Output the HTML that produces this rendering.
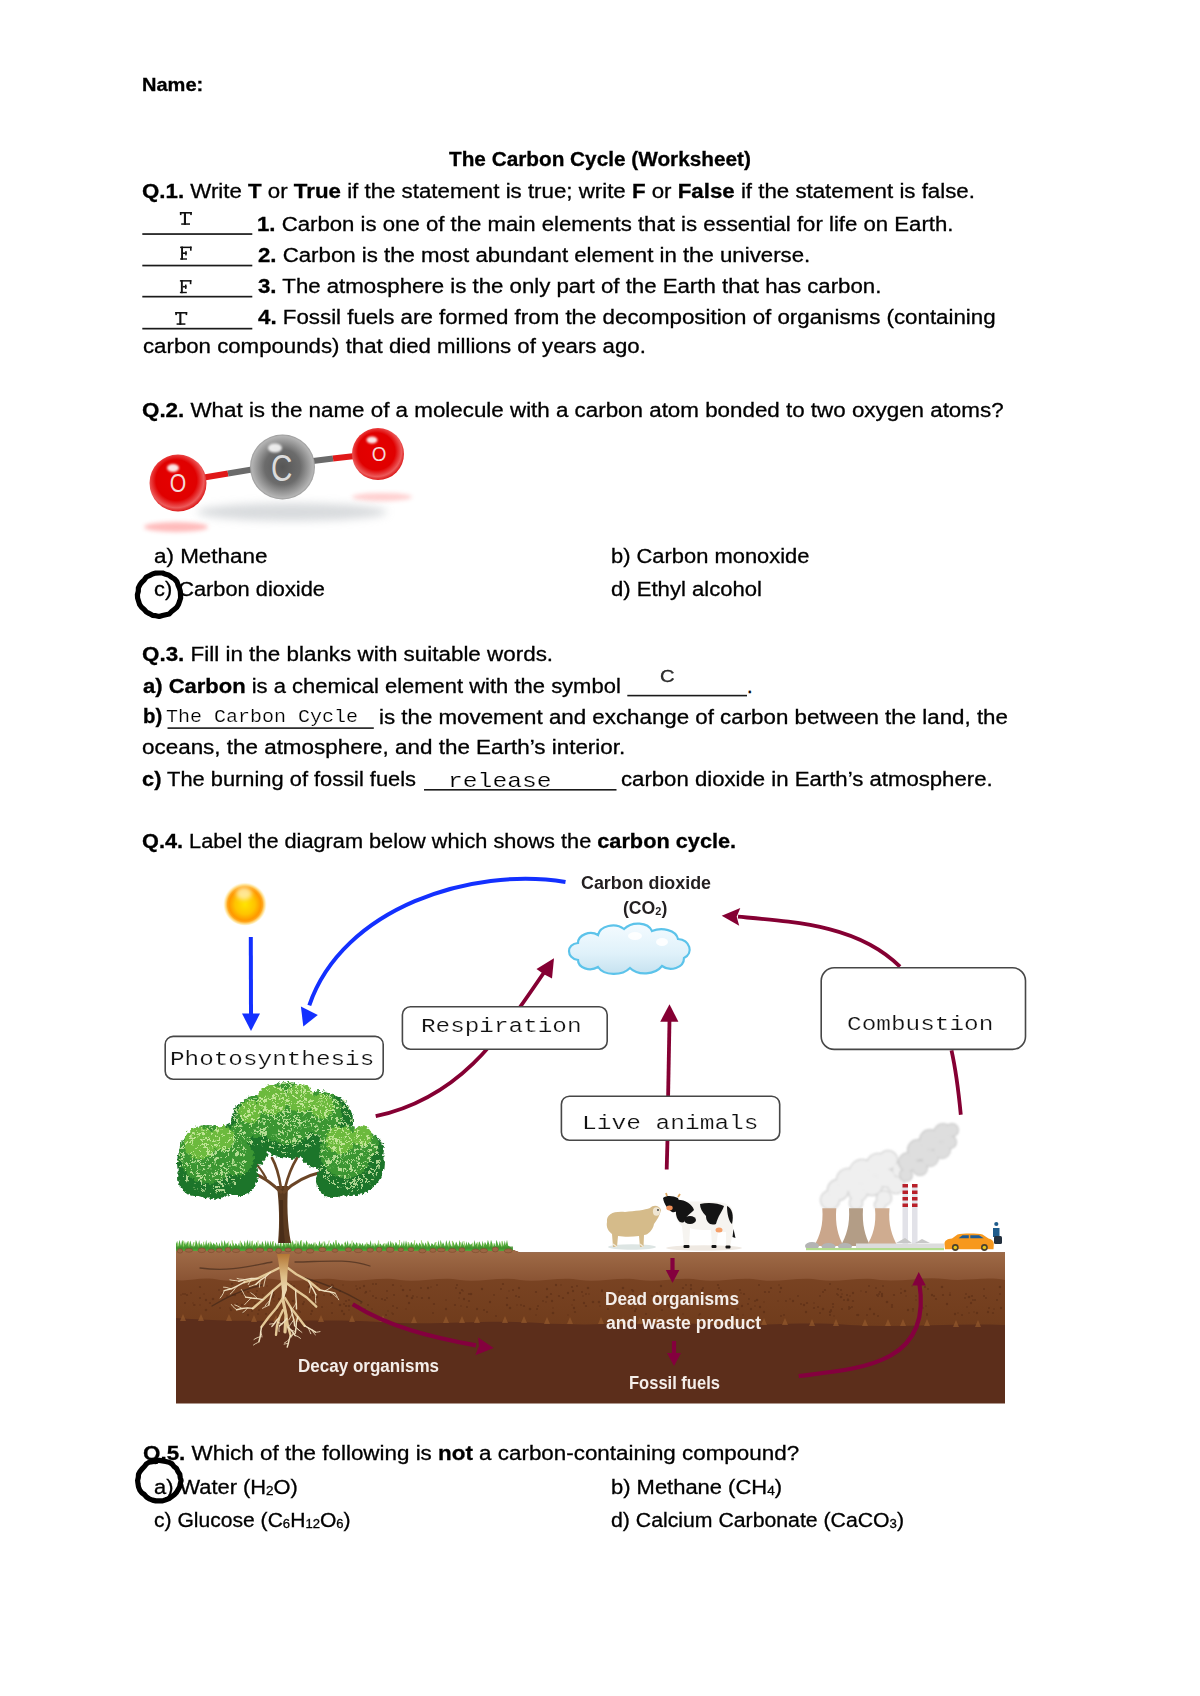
<!DOCTYPE html>
<html><head><meta charset="utf-8"><title>The Carbon Cycle (Worksheet)</title>
<style>
html,body{margin:0;padding:0;background:#fff;}
body{width:1200px;height:1696px;position:relative;overflow:hidden;}
.l{position:absolute;white-space:nowrap;line-height:normal;transform-origin:0 0;}
.l b{font-weight:700;}
.mono{-webkit-text-stroke:0.2px #fff;}
.sans{-webkit-text-stroke:0.3px #000;}
.sb{font-size:0.62em;vertical-align:-0.12em;}
svg{position:absolute;left:0;top:0;}
</style></head>
<body>
<svg width="1200" height="1696" viewBox="0 0 1200 1696">
<defs>
 <radialGradient id="gRed" cx="0.47" cy="0.45" r="0.55">
  <stop offset="0" stop-color="#e60000"/><stop offset="0.65" stop-color="#e00000"/><stop offset="0.88" stop-color="#ec5a5a"/><stop offset="1" stop-color="#dc1a1a"/>
 </radialGradient>
 <radialGradient id="gGrey" cx="0.5" cy="0.5" r="0.55">
  <stop offset="0" stop-color="#565656"/><stop offset="0.5" stop-color="#6c6c6c"/><stop offset="0.86" stop-color="#b4b4b4"/><stop offset="1" stop-color="#6a6a6a"/>
 </radialGradient>
 <radialGradient id="gSun" cx="0.45" cy="0.3" r="0.7">
  <stop offset="0" stop-color="#fff3a8"/><stop offset="0.35" stop-color="#ffd000"/><stop offset="0.8" stop-color="#ff9a00"/><stop offset="1" stop-color="#ff8800"/>
 </radialGradient>
 <filter id="blur2" x="-50%" y="-50%" width="200%" height="200%"><feGaussianBlur stdDeviation="2"/></filter>
 <filter id="blur4" x="-50%" y="-50%" width="200%" height="200%"><feGaussianBlur stdDeviation="4"/></filter>
 <filter id="blur1" x="-50%" y="-50%" width="200%" height="200%"><feGaussianBlur stdDeviation="0.8"/></filter>
 <linearGradient id="gCloud" x1="0" y1="0" x2="0" y2="1">
  <stop offset="0" stop-color="#f4fbff"/><stop offset="0.6" stop-color="#dff1fa"/><stop offset="1" stop-color="#c6e2f0"/>
 </linearGradient>
 <linearGradient id="gTower" x1="0" y1="0" x2="1" y2="0">
  <stop offset="0" stop-color="#c9a68c"/><stop offset="0.5" stop-color="#d9b9a0"/><stop offset="1" stop-color="#b08f78"/>
 </linearGradient>
</defs>

<!-- answer blanks -->
<g fill="#1a1a1a">
 <rect x="142.3" y="233.2" width="110" height="1.7"/>
 <rect x="142.3" y="264.7" width="110" height="1.7"/>
 <rect x="142.3" y="295.8" width="110" height="1.7"/>
 <rect x="142.3" y="327.8" width="110" height="1.7"/>
 <rect x="627.3" y="694.8" width="119.7" height="1.6"/>
 <rect x="167.5" y="727.3" width="206.3" height="1.6"/>
 <rect x="424" y="789.0" width="192.5" height="1.6"/>
</g>
<g fill="#111">
<g transform="translate(179.9,212)"><rect x="0" y="0" width="11.9" height="1.6"/><rect x="0" y="0" width="1.6" height="3.1"/><rect x="10.3" y="0" width="1.6" height="3.1"/><rect x="4.0" y="0" width="2.1" height="12.8"/><rect x="1.3" y="11.3" width="8.8" height="1.5"/></g>
<g transform="translate(180.1,246.6)"><rect x="0" y="0" width="11.5" height="1.5"/><rect x="9.9" y="0" width="1.6" height="4.1"/><rect x="1.0" y="0" width="1.9" height="13.1"/><rect x="2.8" y="5.8" width="3.8" height="1.6"/><rect x="5.1" y="4.5" width="1.5" height="4.3"/><rect x="0" y="11.7" width="6.9" height="1.4"/></g>
<g transform="translate(179.9,280.1)"><rect x="0" y="0" width="11.5" height="1.5"/><rect x="9.9" y="0" width="1.6" height="4.1"/><rect x="1.0" y="0" width="1.9" height="13.1"/><rect x="2.8" y="5.8" width="3.8" height="1.6"/><rect x="5.1" y="4.5" width="1.5" height="4.3"/><rect x="0" y="11.7" width="6.9" height="1.4"/></g>
<g transform="translate(175.3,312)"><rect x="0" y="0" width="11.9" height="1.6"/><rect x="0" y="0" width="1.6" height="3.1"/><rect x="10.3" y="0" width="1.6" height="3.1"/><rect x="4.0" y="0" width="2.1" height="12.8"/><rect x="1.3" y="11.3" width="8.8" height="1.5"/></g>
</g>

<!-- molecule -->
<g>
 <ellipse cx="292" cy="512" rx="95" ry="9" fill="#b9bec2" opacity="0.55" filter="url(#blur4)"/>
 <ellipse cx="176" cy="527" rx="32" ry="5" fill="#ff6a6a" opacity="0.45" filter="url(#blur2)"/>
 <ellipse cx="382" cy="497" rx="30" ry="4" fill="#ff7a7a" opacity="0.35" filter="url(#blur2)"/>
 <line x1="204" y1="477.5" x2="228" y2="473.5" stroke="#e01818" stroke-width="6"/>
 <line x1="228" y1="473.5" x2="252" y2="469.5" stroke="#6a6a6a" stroke-width="6"/>
 <line x1="313" y1="461" x2="333" y2="458.5" stroke="#6a6a6a" stroke-width="6"/>
 <line x1="333" y1="458.5" x2="355" y2="456" stroke="#e01818" stroke-width="6"/>
 <circle cx="178" cy="483" r="28.5" fill="url(#gRed)"/>
 <circle cx="282.5" cy="467" r="32.5" fill="url(#gGrey)"/>
 <circle cx="378" cy="454" r="26" fill="url(#gRed)"/>
 <ellipse cx="173" cy="468" rx="6" ry="4" fill="#fff" opacity="0.9" filter="url(#blur1)"/>
 <ellipse cx="275" cy="448" rx="7" ry="4.5" fill="#fff" opacity="0.85" filter="url(#blur1)"/>
 <ellipse cx="372" cy="440" rx="5.5" ry="3.5" fill="#fff" opacity="0.9" filter="url(#blur1)"/>
 <text x="0" y="0" font-family="Liberation Sans" font-size="25" fill="#f4d8d8" text-anchor="middle" transform="translate(178,491.5) scale(0.85,1)">O</text>
 <text x="0" y="0" font-family="Liberation Sans" font-size="37" fill="#dcdcdc" text-anchor="middle" transform="translate(281.8,480.6) scale(0.8,1)">C</text>
 <text x="0" y="0" font-family="Liberation Sans" font-size="21" fill="#f4d8d8" text-anchor="middle" transform="translate(379,460.8) scale(0.9,1)">O</text>
</g>

<!-- ===== diagram ===== -->
<!-- sun -->
<radialGradient id="gSun2" cx="0.5" cy="0.52" r="0.5">
 <stop offset="0" stop-color="#ffe400"/><stop offset="0.45" stop-color="#ffc400"/><stop offset="0.72" stop-color="#ff9800"/><stop offset="0.8" stop-color="#ffa820"/><stop offset="0.9" stop-color="#ffd870" stop-opacity="0.7"/><stop offset="1" stop-color="#fff0c0" stop-opacity="0"/>
</radialGradient>
<circle cx="245" cy="903.5" r="22" fill="url(#gSun2)"/>
<ellipse cx="244" cy="893.5" rx="8" ry="6.5" fill="#fff2b8" opacity="0.8" filter="url(#blur2)"/>
<!-- blue arrows -->
<g fill="none" stroke="#1330ff" stroke-width="4">
 <path d="M250.8,937 L251,1016"/>
 <path d="M565.5,882.0 C472.0,866.4 342.7,907.7 309.3,1005.3"/>
</g>
<g fill="#1330ff">
 <polygon points="242,1013.5 260,1013.5 251,1031"/>
 <polygon points="300.9,1006.5 317.8,1015 303.3,1026.5"/>
</g>
<!-- cloud -->
<g>
 <path d="M578,960 C566,958 566,944 578,943 C578,935 590,930 598,935 C600,926 615,922 624,929 C632,921 648,922 652,931 C662,927 676,930 678,939 C690,940 694,953 684,958 C684,968 670,972 662,966 C655,975 638,976 630,968 C622,976 604,976 598,967 C590,972 578,968 578,960 Z" fill="url(#gCloud)" stroke="#5cc3ea" stroke-width="2.2"/>
 <ellipse cx="635" cy="936" rx="7" ry="4" fill="#fff" opacity="0.9"/>
 <ellipse cx="662" cy="942" rx="6" ry="4" fill="#fff" opacity="0.9"/>
</g>

<!-- maroon arrows (upper) -->
<g fill="none" stroke="#850033" stroke-width="3.8">
 <path d="M375.7,1116.2 C459.8,1098.0 499.0,1038.4 545.0,971.0"/>
 <path d="M669.5,1020 L668.1,1097"/>
 <path d="M667.5,1139 L666.7,1169.5"/>
 <path d="M900.0,966.7 C858.1,925.2 795.2,921.8 738.0,916.7"/>
 <path d="M951.5,1050.3 Q957,1075 960.8,1114.7"/>
</g>
<g fill="#850033">
 <polygon points="554,958.2 552,978.5 543.5,974 536.5,969"/>
 <polygon points="669.5,1004.3 678.4,1021.7 660.2,1021.7"/>
 <polygon points="721.7,915.8 740.3,908 736.7,916.7 739.2,925.8"/>
</g>
<!-- label boxes -->
<g fill="#fff" stroke="#474747" stroke-width="1.6">
 <rect x="165.2" y="1036.4" width="218" height="42.8" rx="8"/>
 <rect x="402.4" y="1006.8" width="204.8" height="42.4" rx="8"/>
 <rect x="561.4" y="1096.2" width="218.3" height="44" rx="8"/>
 <rect x="821.2" y="967.8" width="204.3" height="81.6" rx="13"/>
</g>

<!-- ===== ground ===== -->
<g>
 <linearGradient id="gTop" x1="0" y1="0" x2="0" y2="1"><stop offset="0" stop-color="#a06c48"/><stop offset="1" stop-color="#8a5434"/></linearGradient>
 <linearGradient id="gMid" x1="0" y1="0" x2="0" y2="1"><stop offset="0" stop-color="#7e4726"/><stop offset="1" stop-color="#703c1c"/></linearGradient>
 <path d="M176,1250 L513,1250 L520,1252.5 L1005,1252.5 L1005,1403.5 L176,1403.5 Z" fill="#5c2e1b"/>
 <path d="M176,1250 L513,1250 L520,1252.5 L1005,1252.5 L1005,1325 C950,1323 900,1328 850,1325 C800,1321 760,1327 700,1324 C640,1321 600,1327 540,1323 C480,1319 440,1326 380,1322 C320,1318 260,1324 176,1318 Z" fill="url(#gMid)"/>
 <path d="M176,1250 L513,1250 L520,1252.5 L1005,1252.5 L1005,1280 C985,1276 965,1282 945,1279 C925,1276 905,1282 880,1280 C860,1276 840,1283 820,1280 C800,1276 780,1283 760,1280 C740,1276 720,1283 700,1280 C680,1276 660,1283 640,1280 C620,1276 600,1283 580,1280 C560,1276 540,1283 520,1280 C500,1276 480,1283 460,1280 C440,1276 420,1283 400,1280 C380,1276 360,1283 340,1280 C320,1276 300,1283 280,1280 C260,1276 240,1283 220,1280 C200,1276 190,1282 176,1280 Z" fill="url(#gTop)"/>
<!-- pebbles row -->
 <g fill="#4e2612" opacity="0.45"><circle cx="314" cy="1306" r="1.1"/><circle cx="573" cy="1291" r="1.2"/><circle cx="844" cy="1300" r="1.0"/><circle cx="373" cy="1284" r="0.9"/><circle cx="661" cy="1286" r="1.2"/><circle cx="370" cy="1291" r="0.7"/><circle cx="1001" cy="1308" r="1.2"/><circle cx="686" cy="1285" r="0.9"/><circle cx="588" cy="1288" r="1.3"/><circle cx="482" cy="1289" r="1.2"/><circle cx="281" cy="1314" r="1.0"/><circle cx="633" cy="1295" r="1.0"/><circle cx="332" cy="1285" r="1.2"/><circle cx="372" cy="1309" r="0.8"/><circle cx="977" cy="1313" r="1.2"/><circle cx="807" cy="1303" r="1.1"/><circle cx="279" cy="1299" r="1.2"/><circle cx="344" cy="1314" r="1.2"/><circle cx="516" cy="1296" r="1.0"/><circle cx="496" cy="1316" r="0.9"/><circle cx="200" cy="1287" r="1.1"/><circle cx="997" cy="1300" r="1.0"/><circle cx="632" cy="1308" r="0.8"/><circle cx="680" cy="1302" r="1.1"/><circle cx="327" cy="1289" r="0.9"/><circle cx="943" cy="1295" r="1.1"/><circle cx="431" cy="1287" r="0.7"/><circle cx="849" cy="1309" r="0.9"/><circle cx="742" cy="1306" r="1.2"/><circle cx="969" cy="1297" r="1.3"/><circle cx="971" cy="1303" r="1.2"/><circle cx="583" cy="1296" r="0.8"/><circle cx="901" cy="1289" r="0.7"/><circle cx="842" cy="1309" r="1.0"/><circle cx="869" cy="1286" r="0.9"/><circle cx="417" cy="1297" r="0.8"/><circle cx="235" cy="1295" r="1.2"/><circle cx="989" cy="1308" r="1.0"/><circle cx="386" cy="1315" r="1.0"/><circle cx="779" cy="1285" r="0.8"/><circle cx="870" cy="1309" r="1.2"/><circle cx="674" cy="1298" r="1.0"/><circle cx="879" cy="1294" r="1.0"/><circle cx="406" cy="1309" r="0.7"/><circle cx="743" cy="1315" r="0.7"/><circle cx="668" cy="1305" r="1.2"/><circle cx="660" cy="1292" r="0.9"/><circle cx="969" cy="1313" r="0.8"/><circle cx="256" cy="1287" r="0.7"/><circle cx="547" cy="1289" r="1.2"/><circle cx="719" cy="1288" r="1.0"/><circle cx="446" cy="1300" r="0.8"/><circle cx="315" cy="1290" r="0.9"/><circle cx="764" cy="1302" r="0.7"/><circle cx="764" cy="1312" r="1.2"/><circle cx="830" cy="1284" r="1.0"/><circle cx="230" cy="1308" r="0.8"/><circle cx="765" cy="1292" r="1.1"/><circle cx="437" cy="1285" r="0.9"/><circle cx="433" cy="1313" r="0.9"/><circle cx="593" cy="1302" r="1.3"/><circle cx="259" cy="1303" r="1.0"/><circle cx="784" cy="1315" r="0.9"/><circle cx="755" cy="1301" r="1.0"/><circle cx="231" cy="1310" r="1.3"/><circle cx="471" cy="1294" r="1.3"/><circle cx="267" cy="1286" r="0.7"/><circle cx="850" cy="1308" r="1.0"/><circle cx="691" cy="1285" r="1.1"/><circle cx="543" cy="1301" r="0.9"/><circle cx="509" cy="1291" r="0.7"/><circle cx="536" cy="1292" r="1.1"/><circle cx="852" cy="1307" r="1.0"/><circle cx="373" cy="1296" r="1.0"/><circle cx="699" cy="1315" r="0.8"/><circle cx="574" cy="1300" r="1.1"/><circle cx="913" cy="1309" r="1.1"/><circle cx="804" cy="1305" r="1.2"/><circle cx="755" cy="1306" r="0.8"/><circle cx="934" cy="1296" r="1.1"/><circle cx="858" cy="1315" r="1.3"/><circle cx="183" cy="1294" r="0.9"/><circle cx="501" cy="1289" r="1.0"/><circle cx="244" cy="1294" r="1.3"/><circle cx="790" cy="1299" r="0.8"/><circle cx="967" cy="1307" r="0.8"/><circle cx="455" cy="1305" r="1.1"/><circle cx="393" cy="1314" r="0.9"/><circle cx="388" cy="1311" r="0.8"/><circle cx="740" cy="1290" r="1.1"/><circle cx="407" cy="1296" r="1.3"/><circle cx="563" cy="1298" r="1.1"/><circle cx="410" cy="1290" r="0.9"/><circle cx="403" cy="1290" r="1.3"/><circle cx="206" cy="1310" r="1.3"/><circle cx="759" cy="1285" r="1.0"/><circle cx="210" cy="1303" r="1.1"/><circle cx="376" cy="1284" r="1.0"/><circle cx="256" cy="1294" r="1.0"/><circle cx="916" cy="1296" r="0.8"/><circle cx="831" cy="1310" r="1.0"/><circle cx="219" cy="1290" r="0.9"/><circle cx="633" cy="1291" r="1.2"/><circle cx="874" cy="1314" r="1.2"/><circle cx="193" cy="1303" r="0.7"/><circle cx="920" cy="1308" r="1.2"/><circle cx="333" cy="1286" r="1.2"/><circle cx="678" cy="1304" r="1.0"/><circle cx="838" cy="1295" r="0.9"/><circle cx="469" cy="1294" r="1.1"/><circle cx="912" cy="1286" r="0.7"/><circle cx="600" cy="1306" r="0.8"/><circle cx="401" cy="1286" r="0.7"/><circle cx="586" cy="1306" r="1.1"/><circle cx="309" cy="1287" r="1.3"/><circle cx="622" cy="1297" r="1.1"/><circle cx="778" cy="1301" r="0.7"/><circle cx="861" cy="1291" r="0.7"/><circle cx="469" cy="1301" r="1.1"/><circle cx="322" cy="1307" r="1.0"/><circle cx="312" cy="1311" r="1.2"/><circle cx="926" cy="1306" r="0.8"/><circle cx="820" cy="1313" r="1.0"/><circle cx="927" cy="1315" r="0.9"/><circle cx="955" cy="1314" r="1.2"/><circle cx="187" cy="1295" r="1.1"/><circle cx="679" cy="1308" r="1.1"/><circle cx="311" cy="1314" r="1.0"/><circle cx="905" cy="1291" r="1.3"/><circle cx="636" cy="1309" r="1.1"/><circle cx="906" cy="1296" r="0.7"/><circle cx="513" cy="1290" r="1.0"/><circle cx="850" cy="1296" r="0.8"/><circle cx="200" cy="1298" r="1.0"/><circle cx="200" cy="1305" r="0.8"/><circle cx="266" cy="1314" r="1.0"/><circle cx="916" cy="1300" r="0.8"/><circle cx="376" cy="1298" r="1.1"/><circle cx="814" cy="1308" r="1.1"/><circle cx="387" cy="1298" r="0.9"/><circle cx="582" cy="1292" r="1.0"/><circle cx="556" cy="1285" r="1.2"/><circle cx="662" cy="1310" r="1.1"/><circle cx="781" cy="1316" r="0.9"/><circle cx="503" cy="1284" r="1.1"/><circle cx="658" cy="1302" r="1.3"/><circle cx="340" cy="1291" r="1.1"/><circle cx="848" cy="1299" r="0.7"/><circle cx="484" cy="1310" r="1.0"/><circle cx="559" cy="1296" r="1.1"/><circle cx="672" cy="1306" r="1.2"/><circle cx="798" cy="1296" r="0.9"/><circle cx="823" cy="1309" r="1.3"/><circle cx="342" cy="1311" r="1.2"/><circle cx="242" cy="1294" r="1.1"/><circle cx="299" cy="1311" r="0.9"/><circle cx="741" cy="1293" r="0.8"/><circle cx="349" cy="1300" r="1.1"/><circle cx="358" cy="1306" r="0.9"/><circle cx="714" cy="1296" r="0.8"/><circle cx="294" cy="1286" r="1.1"/><circle cx="519" cy="1288" r="1.2"/><circle cx="718" cy="1285" r="1.1"/><circle cx="669" cy="1298" r="1.0"/><circle cx="972" cy="1296" r="1.1"/><circle cx="702" cy="1296" r="0.9"/><circle cx="801" cy="1304" r="1.0"/><circle cx="602" cy="1291" r="1.2"/><circle cx="194" cy="1305" r="1.0"/><circle cx="361" cy="1303" r="1.0"/><circle cx="250" cy="1300" r="0.8"/><circle cx="837" cy="1294" r="0.9"/><circle cx="356" cy="1286" r="0.8"/><circle cx="303" cy="1304" r="1.2"/><circle cx="360" cy="1288" r="1.0"/><circle cx="273" cy="1297" r="1.2"/><circle cx="346" cy="1306" r="1.0"/><circle cx="248" cy="1292" r="1.1"/><circle cx="257" cy="1291" r="1.0"/><circle cx="853" cy="1301" r="1.1"/><circle cx="185" cy="1294" r="0.9"/><circle cx="932" cy="1295" r="1.2"/><circle cx="206" cy="1300" r="1.2"/><circle cx="814" cy="1303" r="0.8"/><circle cx="942" cy="1287" r="1.3"/><circle cx="818" cy="1307" r="1.0"/><circle cx="313" cy="1295" r="1.1"/><circle cx="719" cy="1296" r="1.2"/><circle cx="222" cy="1293" r="0.8"/><circle cx="446" cy="1309" r="1.2"/><circle cx="301" cy="1294" r="0.8"/><circle cx="724" cy="1298" r="0.8"/><circle cx="487" cy="1312" r="1.0"/><circle cx="748" cy="1304" r="1.0"/><circle cx="637" cy="1296" r="0.8"/><circle cx="586" cy="1294" r="0.9"/><circle cx="332" cy="1313" r="1.0"/><circle cx="343" cy="1285" r="0.8"/><circle cx="894" cy="1295" r="1.1"/><circle cx="368" cy="1305" r="1.0"/><circle cx="786" cy="1301" r="0.9"/><circle cx="409" cy="1303" r="1.2"/><circle cx="749" cy="1299" r="0.9"/><circle cx="913" cy="1311" r="0.8"/><circle cx="738" cy="1309" r="1.1"/><circle cx="974" cy="1312" r="0.8"/><circle cx="1000" cy="1294" r="0.9"/><circle cx="984" cy="1289" r="0.9"/><circle cx="694" cy="1293" r="0.9"/><circle cx="833" cy="1304" r="1.1"/><circle cx="830" cy="1312" r="1.2"/><circle cx="857" cy="1315" r="1.0"/><circle cx="757" cy="1300" r="1.3"/><circle cx="718" cy="1298" r="1.1"/><circle cx="421" cy="1288" r="0.9"/><circle cx="291" cy="1284" r="0.8"/><circle cx="553" cy="1308" r="0.7"/><circle cx="703" cy="1288" r="1.0"/><circle cx="422" cy="1298" r="1.1"/><circle cx="519" cy="1297" r="1.1"/><circle cx="274" cy="1295" r="1.1"/><circle cx="867" cy="1315" r="0.9"/><circle cx="694" cy="1294" r="1.1"/><circle cx="876" cy="1288" r="0.9"/><circle cx="950" cy="1295" r="1.1"/><circle cx="853" cy="1293" r="1.2"/><circle cx="181" cy="1295" r="0.8"/><circle cx="463" cy="1291" r="0.7"/><circle cx="841" cy="1290" r="1.0"/><circle cx="635" cy="1311" r="1.2"/><circle cx="691" cy="1289" r="1.2"/><circle cx="258" cy="1314" r="0.9"/><circle cx="387" cy="1291" r="0.9"/><circle cx="831" cy="1311" r="1.1"/><circle cx="780" cy="1292" r="0.9"/><circle cx="429" cy="1298" r="1.2"/><circle cx="1000" cy="1287" r="1.3"/><circle cx="936" cy="1299" r="1.1"/><circle cx="825" cy="1290" r="1.1"/><circle cx="988" cy="1312" r="1.2"/><circle cx="248" cy="1307" r="1.0"/><circle cx="928" cy="1289" r="1.0"/><circle cx="277" cy="1310" r="1.1"/><circle cx="204" cy="1294" r="0.8"/><circle cx="702" cy="1304" r="0.7"/><circle cx="962" cy="1315" r="1.0"/><circle cx="652" cy="1296" r="1.1"/><circle cx="507" cy="1298" r="1.1"/><circle cx="332" cy="1294" r="1.2"/><circle cx="364" cy="1286" r="1.2"/><circle cx="310" cy="1297" r="0.9"/><circle cx="394" cy="1295" r="1.0"/><circle cx="274" cy="1301" r="0.7"/><circle cx="243" cy="1290" r="0.8"/><circle cx="460" cy="1293" r="1.2"/><circle cx="721" cy="1299" r="1.2"/><circle cx="744" cy="1294" r="1.1"/><circle cx="793" cy="1301" r="1.2"/><circle cx="700" cy="1314" r="0.9"/><circle cx="732" cy="1315" r="1.0"/><circle cx="925" cy="1287" r="1.1"/><circle cx="397" cy="1308" r="1.0"/><circle cx="619" cy="1292" r="0.9"/><circle cx="892" cy="1305" r="1.1"/><circle cx="273" cy="1293" r="1.3"/><circle cx="346" cy="1301" r="1.1"/><circle cx="599" cy="1302" r="1.3"/><circle cx="823" cy="1292" r="1.0"/><circle cx="524" cy="1306" r="1.1"/><circle cx="393" cy="1306" r="1.0"/><circle cx="191" cy="1293" r="0.9"/><circle cx="340" cy="1305" r="1.3"/><circle cx="947" cy="1304" r="1.2"/><circle cx="584" cy="1303" r="1.2"/><circle cx="227" cy="1296" r="0.9"/><circle cx="459" cy="1298" r="0.7"/><circle cx="738" cy="1315" r="0.8"/><circle cx="331" cy="1295" r="1.2"/><circle cx="365" cy="1309" r="0.8"/><circle cx="669" cy="1307" r="1.1"/><circle cx="248" cy="1315" r="1.2"/><circle cx="575" cy="1312" r="1.1"/><circle cx="317" cy="1297" r="1.2"/><circle cx="561" cy="1285" r="0.8"/><circle cx="332" cy="1303" r="1.1"/><circle cx="547" cy="1297" r="1.3"/><circle cx="461" cy="1306" r="0.8"/><circle cx="602" cy="1290" r="0.8"/><circle cx="456" cy="1288" r="0.9"/><circle cx="717" cy="1302" r="1.2"/><circle cx="572" cy="1287" r="1.1"/><circle cx="510" cy="1308" r="1.3"/><circle cx="610" cy="1292" r="0.9"/><circle cx="589" cy="1294" r="0.8"/><circle cx="507" cy="1305" r="1.2"/><circle cx="806" cy="1312" r="1.2"/><circle cx="517" cy="1305" r="0.7"/><circle cx="833" cy="1307" r="0.9"/><circle cx="568" cy="1293" r="1.2"/><circle cx="530" cy="1309" r="1.3"/><circle cx="820" cy="1296" r="0.9"/><circle cx="958" cy="1313" r="0.8"/><circle cx="477" cy="1309" r="1.2"/><circle cx="412" cy="1298" r="1.3"/><circle cx="252" cy="1293" r="1.1"/><circle cx="927" cy="1314" r="1.0"/><circle cx="830" cy="1315" r="0.9"/><circle cx="366" cy="1292" r="1.2"/><circle cx="293" cy="1301" r="1.3"/><circle cx="344" cy="1304" r="1.0"/><circle cx="975" cy="1300" r="1.0"/><circle cx="923" cy="1308" r="0.8"/><circle cx="841" cy="1297" r="1.3"/><circle cx="973" cy="1300" r="0.9"/><circle cx="365" cy="1293" r="0.8"/><circle cx="317" cy="1307" r="0.7"/><circle cx="672" cy="1303" r="1.1"/><circle cx="646" cy="1314" r="0.9"/><circle cx="255" cy="1303" r="0.9"/><circle cx="993" cy="1313" r="1.1"/><circle cx="866" cy="1292" r="1.0"/><circle cx="494" cy="1295" r="0.9"/><circle cx="572" cy="1305" r="0.7"/><circle cx="623" cy="1288" r="1.3"/><circle cx="633" cy="1303" r="0.9"/><circle cx="760" cy="1307" r="1.2"/><circle cx="657" cy="1293" r="1.1"/><circle cx="220" cy="1308" r="0.9"/><circle cx="771" cy="1288" r="1.1"/><circle cx="317" cy="1285" r="0.9"/><circle cx="878" cy="1296" r="1.0"/><circle cx="830" cy="1315" r="0.9"/><circle cx="751" cy="1309" r="1.2"/><circle cx="464" cy="1299" r="1.2"/><circle cx="385" cy="1300" r="1.1"/><circle cx="880" cy="1292" r="1.1"/><circle cx="357" cy="1289" r="1.0"/><circle cx="712" cy="1304" r="1.3"/><circle cx="314" cy="1301" r="1.0"/><circle cx="392" cy="1313" r="0.8"/><circle cx="393" cy="1285" r="1.1"/><circle cx="721" cy="1291" r="1.3"/><circle cx="702" cy="1290" r="1.3"/><circle cx="882" cy="1294" r="1.2"/><circle cx="285" cy="1295" r="1.0"/><circle cx="966" cy="1294" r="0.9"/><circle cx="349" cy="1310" r="0.8"/><circle cx="877" cy="1295" r="1.0"/><circle cx="901" cy="1293" r="1.0"/><circle cx="703" cy="1302" r="0.9"/><circle cx="711" cy="1294" r="0.8"/><circle cx="185" cy="1303" r="1.0"/><circle cx="838" cy="1289" r="1.1"/><circle cx="552" cy="1301" r="1.2"/><circle cx="606" cy="1298" r="1.1"/><circle cx="300" cy="1312" r="1.0"/><circle cx="213" cy="1299" r="1.3"/><circle cx="986" cy="1298" r="0.9"/><circle cx="950" cy="1293" r="0.7"/><circle cx="382" cy="1299" r="1.1"/><circle cx="233" cy="1295" r="1.1"/><circle cx="462" cy="1290" r="1.1"/><circle cx="538" cy="1306" r="1.0"/><circle cx="848" cy="1300" r="1.3"/><circle cx="849" cy="1307" r="1.0"/><circle cx="681" cy="1296" r="0.7"/><circle cx="908" cy="1310" r="1.2"/><circle cx="887" cy="1302" r="1.3"/><circle cx="568" cy="1315" r="0.7"/><circle cx="490" cy="1302" r="1.2"/><circle cx="608" cy="1309" r="0.9"/><circle cx="737" cy="1309" r="1.1"/><circle cx="195" cy="1305" r="0.7"/><circle cx="428" cy="1288" r="1.2"/><circle cx="317" cy="1307" r="0.7"/><circle cx="349" cy="1306" r="1.3"/><circle cx="237" cy="1304" r="0.9"/><circle cx="691" cy="1286" r="0.7"/><circle cx="243" cy="1313" r="1.0"/><circle cx="683" cy="1288" r="1.1"/><circle cx="921" cy="1290" r="1.2"/><circle cx="878" cy="1316" r="1.0"/><circle cx="710" cy="1295" r="1.2"/><circle cx="434" cy="1304" r="1.1"/><circle cx="994" cy="1309" r="0.8"/><circle cx="324" cy="1295" r="0.9"/><circle cx="769" cy="1292" r="1.0"/><circle cx="551" cy="1294" r="1.1"/><circle cx="536" cy="1315" r="0.8"/><circle cx="920" cy="1304" r="1.0"/><circle cx="242" cy="1305" r="1.2"/><circle cx="467" cy="1307" r="1.0"/><circle cx="252" cy="1311" r="0.9"/><circle cx="574" cy="1308" r="1.2"/><circle cx="882" cy="1296" r="1.2"/><circle cx="304" cy="1302" r="1.0"/><circle cx="892" cy="1307" r="1.1"/><circle cx="847" cy="1295" r="1.0"/><circle cx="263" cy="1295" r="0.8"/><circle cx="781" cy="1288" r="1.2"/><circle cx="673" cy="1298" r="0.8"/><circle cx="546" cy="1302" r="0.8"/><circle cx="984" cy="1296" r="1.0"/><circle cx="413" cy="1296" r="0.9"/><circle cx="883" cy="1286" r="0.9"/><circle cx="671" cy="1299" r="0.9"/><circle cx="577" cy="1286" r="0.9"/><circle cx="537" cy="1309" r="1.0"/><circle cx="521" cy="1305" r="0.9"/><circle cx="632" cy="1290" r="1.1"/><circle cx="623" cy="1305" r="1.2"/><circle cx="834" cy="1316" r="0.8"/><circle cx="965" cy="1298" r="0.9"/><circle cx="553" cy="1313" r="1.3"/><circle cx="842" cy="1294" r="0.8"/><circle cx="346" cy="1306" r="1.1"/><circle cx="232" cy="1284" r="1.3"/><circle cx="457" cy="1285" r="1.0"/><circle cx="259" cy="1310" r="1.0"/><circle cx="683" cy="1314" r="0.8"/></g>
 <g fill="#94592c" opacity="0.7"><path d="M180,1321 L183,1314 L186,1321 Z"/><path d="M198,1321 L201,1314 L204,1321 Z"/><path d="M226,1321 L229,1314 L232,1321 Z"/><path d="M251,1322 L254,1315 L257,1322 Z"/><path d="M273,1322 L276,1315 L279,1322 Z"/><path d="M293,1322 L296,1315 L299,1322 Z"/><path d="M318,1322 L321,1315 L324,1322 Z"/><path d="M349,1322 L352,1315 L355,1322 Z"/><path d="M380,1322 L383,1315 L386,1322 Z"/><path d="M411,1323 L414,1316 L417,1323 Z"/><path d="M443,1323 L446,1316 L449,1323 Z"/><path d="M459,1323 L462,1316 L465,1323 Z"/><path d="M474,1323 L477,1316 L480,1323 Z"/><path d="M502,1323 L505,1316 L508,1323 Z"/><path d="M521,1323 L524,1316 L527,1323 Z"/><path d="M544,1324 L547,1317 L550,1324 Z"/><path d="M567,1324 L570,1317 L573,1324 Z"/><path d="M598,1324 L601,1317 L604,1324 Z"/><path d="M620,1324 L623,1317 L626,1324 Z"/><path d="M637,1324 L640,1317 L643,1324 Z"/><path d="M654,1324 L657,1317 L660,1324 Z"/><path d="M685,1325 L688,1318 L691,1325 Z"/><path d="M713,1325 L716,1318 L719,1325 Z"/><path d="M730,1325 L733,1318 L736,1325 Z"/><path d="M761,1325 L764,1318 L767,1325 Z"/><path d="M782,1325 L785,1318 L788,1325 Z"/><path d="M809,1326 L812,1319 L815,1326 Z"/><path d="M833,1326 L836,1319 L839,1326 Z"/><path d="M862,1326 L865,1319 L868,1326 Z"/><path d="M885,1326 L888,1319 L891,1326 Z"/><path d="M900,1326 L903,1319 L906,1326 Z"/><path d="M924,1326 L927,1319 L930,1326 Z"/><path d="M953,1327 L956,1320 L959,1327 Z"/><path d="M975,1327 L978,1320 L981,1327 Z"/></g>
 <!-- grass -->
 <path d="M176,1251 L176,1244 L177.2,1240.8 L178.2,1246.3 L179.4,1239.8 L181.0,1245.7 L182.2,1239.7 L183.8,1245.1 L185.0,1241.2 L185.9,1245.2 L187.1,1241.2 L189.1,1245.2 L190.3,1240.4 L192.1,1246.9 L193.3,1241.8 L194.7,1247.0 L195.9,1239.7 L198.0,1245.6 L199.2,1240.1 L200.1,1245.6 L201.3,1242.8 L202.4,1246.2 L203.6,1242.1 L205.0,1246.1 L206.2,1239.8 L207.1,1245.4 L208.3,1242.2 L209.7,1245.6 L210.9,1241.8 L212.4,1245.6 L213.6,1242.7 L215.4,1245.5 L216.6,1241.8 L218.2,1246.8 L219.4,1242.4 L220.6,1247.0 L221.8,1240.0 L223.3,1246.5 L224.5,1240.1 L226.0,1245.1 L227.2,1242.2 L229.2,1246.1 L230.4,1243.0 L231.6,1246.4 L232.8,1241.9 L234.5,1245.9 L235.7,1242.9 L237.9,1245.9 L239.1,1242.2 L240.0,1246.4 L241.2,1242.1 L243.5,1246.6 L244.7,1240.6 L246.1,1246.3 L247.3,1239.6 L248.8,1245.3 L250.0,1240.0 L250.9,1246.5 L252.1,1240.0 L253.2,1245.8 L254.4,1243.0 L255.3,1245.9 L256.5,1241.7 L258.7,1246.6 L259.9,1243.0 L261.1,1245.8 L262.3,1240.9 L264.4,1246.9 L265.6,1240.1 L266.7,1245.5 L267.9,1240.4 L269.4,1246.2 L270.6,1240.6 L271.4,1245.8 L272.6,1241.0 L274.3,1246.9 L275.5,1242.3 L277.0,1246.2 L278.2,1242.2 L279.1,1246.8 L280.3,1242.6 L282.4,1246.6 L283.6,1241.1 L285.0,1245.2 L286.2,1242.0 L287.1,1245.1 L288.3,1240.3 L289.4,1245.7 L290.6,1239.7 L291.4,1245.3 L292.6,1239.9 L293.9,1245.1 L295.1,1243.0 L296.8,1245.3 L298.0,1240.5 L299.3,1245.7 L300.5,1240.0 L302.6,1247.0 L303.8,1241.4 L305.3,1245.2 L306.5,1239.9 L307.9,1245.5 L309.1,1242.8 L310.1,1245.0 L311.3,1243.3 L312.9,1245.3 L314.1,1241.7 L314.9,1246.1 L316.1,1243.4 L318.2,1246.4 L319.4,1240.5 L320.8,1245.3 L322.0,1242.6 L323.6,1246.6 L324.8,1240.8 L325.9,1246.6 L327.1,1243.4 L329.2,1246.6 L330.4,1242.8 L332.3,1245.5 L333.5,1241.6 L334.8,1245.1 L336.0,1239.6 L337.3,1245.5 L338.5,1242.3 L340.7,1245.9 L341.9,1243.2 L344.2,1246.9 L345.4,1241.0 L346.5,1245.5 L347.7,1240.3 L348.8,1246.2 L350.0,1243.1 L352.1,1246.0 L353.3,1242.1 L355.3,1245.2 L356.5,1242.1 L358.6,1246.6 L359.8,1242.5 L361.4,1245.4 L362.6,1242.7 L363.9,1246.6 L365.1,1243.4 L366.4,1245.8 L367.6,1243.3 L369.5,1245.3 L370.7,1240.0 L371.8,1246.8 L373.0,1242.7 L374.0,1246.7 L375.2,1243.4 L377.0,1245.7 L378.2,1241.7 L379.2,1245.0 L380.4,1243.4 L382.1,1246.1 L383.3,1243.2 L384.8,1246.7 L386.0,1242.8 L387.1,1245.5 L388.3,1240.7 L389.5,1246.2 L390.7,1240.5 L392.1,1245.3 L393.3,1243.1 L394.6,1245.9 L395.8,1241.8 L398.0,1245.8 L399.2,1243.2 L400.7,1246.1 L401.9,1241.6 L402.8,1245.9 L404.0,1240.2 L404.8,1246.6 L406.0,1240.2 L407.5,1246.5 L408.7,1241.7 L410.0,1246.0 L411.2,1241.7 L413.1,1245.2 L414.3,1241.7 L415.5,1245.6 L416.7,1242.6 L418.3,1246.1 L419.5,1242.5 L421.6,1245.9 L422.8,1242.0 L424.4,1246.0 L425.6,1242.3 L427.1,1246.1 L428.3,1241.4 L430.5,1246.4 L431.7,1243.0 L433.9,1245.5 L435.1,1241.7 L437.3,1246.7 L438.5,1240.0 L439.5,1245.9 L440.7,1239.8 L441.9,1245.1 L443.1,1242.2 L445.0,1246.8 L446.2,1240.1 L448.1,1246.3 L449.3,1240.1 L451.4,1246.9 L452.6,1240.4 L454.9,1245.8 L456.1,1241.4 L458.4,1246.7 L459.6,1240.1 L461.0,1246.0 L462.2,1240.9 L463.3,1245.6 L464.5,1242.4 L465.3,1246.1 L466.5,1241.3 L467.3,1245.7 L468.5,1242.0 L470.1,1245.1 L471.3,1243.4 L473.3,1246.9 L474.5,1239.9 L475.7,1245.1 L476.9,1242.6 L478.1,1245.3 L479.3,1241.2 L481.5,1246.6 L482.7,1240.5 L483.7,1246.8 L484.9,1241.8 L486.7,1245.2 L487.9,1239.7 L489.8,1245.9 L491.0,1239.8 L493.2,1246.3 L494.4,1242.7 L495.3,1246.7 L496.5,1239.8 L498.6,1245.9 L499.8,1240.9 L501.4,1246.9 L502.6,1240.6 L503.6,1246.1 L504.8,1240.5 L505.8,1245.3 L507.0,1239.7 L508.1,1245.6 L513,1249 L513,1251 Z" fill="#4fa83a"/>
 <g stroke="#9ad26a" stroke-width="1" fill="none" opacity="0.9"><path d="M178.0,1248 L177.8,1243.0" /><path d="M183.4,1248 L183.7,1240.7" /><path d="M189.2,1248 L188.2,1241.0" /><path d="M193.3,1248 L194.1,1242.2" /><path d="M198.2,1248 L198.4,1243.7" /><path d="M202.7,1248 L203.8,1241.7" /><path d="M209.2,1248 L210.3,1241.6" /><path d="M215.7,1248 L216.5,1243.9" /><path d="M221.5,1248 L222.5,1242.8" /><path d="M228.6,1248 L228.7,1241.4" /><path d="M232.9,1248 L232.2,1240.3" /><path d="M240.6,1248 L240.3,1240.7" /><path d="M245.0,1248 L246.1,1243.5" /><path d="M252.4,1248 L252.1,1241.0" /><path d="M257.9,1248 L258.0,1240.6" /><path d="M264.1,1248 L263.7,1243.8" /><path d="M273.0,1248 L273.3,1241.0" /><path d="M281.8,1248 L281.6,1241.4" /><path d="M285.8,1248 L285.7,1241.9" /><path d="M292.3,1248 L291.8,1242.0" /><path d="M296.3,1248 L296.0,1240.4" /><path d="M302.3,1248 L301.4,1240.1" /><path d="M307.8,1248 L307.4,1242.3" /><path d="M314.5,1248 L315.4,1242.6" /><path d="M322.1,1248 L323.3,1241.6" /><path d="M327.7,1248 L329.2,1240.6" /><path d="M335.3,1248 L335.9,1240.2" /><path d="M343.5,1248 L344.7,1242.5" /><path d="M351.2,1248 L352.2,1240.6" /><path d="M357.8,1248 L358.0,1243.3" /><path d="M365.8,1248 L366.9,1242.3" /><path d="M374.3,1248 L375.0,1242.8" /><path d="M379.4,1248 L378.5,1240.5" /><path d="M385.2,1248 L384.5,1243.3" /><path d="M392.0,1248 L392.6,1242.5" /><path d="M399.4,1248 L399.6,1240.0" /><path d="M407.4,1248 L408.3,1242.0" /><path d="M414.1,1248 L414.7,1240.3" /><path d="M421.8,1248 L421.4,1240.3" /><path d="M427.1,1248 L427.9,1240.8" /><path d="M434.8,1248 L436.2,1242.0" /><path d="M440.7,1248 L440.9,1242.7" /><path d="M448.5,1248 L449.1,1242.6" /><path d="M452.9,1248 L452.3,1241.0" /><path d="M460.6,1248 L460.4,1242.3" /><path d="M464.7,1248 L463.9,1241.1" /><path d="M472.1,1248 L472.8,1242.7" /><path d="M477.5,1248 L477.8,1241.9" /><path d="M483.9,1248 L483.2,1243.6" /><path d="M488.9,1248 L490.3,1243.7" /><path d="M492.9,1248 L493.1,1243.3" /><path d="M501.8,1248 L501.9,1241.1" /></g>
 <rect x="176" y="1246.5" width="337" height="3" fill="#3d8c2a" opacity="0.8"/>
 <g fill="#9c6644" stroke="#7a4a2c" stroke-width="0.6"><ellipse cx="180.0" cy="1250.9" rx="2.8" ry="2.2"/><ellipse cx="188.9" cy="1250.3" rx="3.9" ry="1.9"/><ellipse cx="201.8" cy="1250.3" rx="3.8" ry="2.3"/><ellipse cx="211.2" cy="1250.8" rx="3.2" ry="1.8"/><ellipse cx="219.2" cy="1250.2" rx="3.2" ry="2.0"/><ellipse cx="228.0" cy="1250.0" rx="3.0" ry="2.4"/><ellipse cx="236.0" cy="1250.6" rx="3.8" ry="1.9"/><ellipse cx="249.6" cy="1250.6" rx="3.9" ry="2.0"/><ellipse cx="259.8" cy="1250.1" rx="4.0" ry="2.2"/><ellipse cx="270.0" cy="1250.1" rx="2.9" ry="1.8"/><ellipse cx="278.6" cy="1250.8" rx="2.9" ry="2.5"/><ellipse cx="288.1" cy="1249.9" rx="3.3" ry="1.9"/><ellipse cx="298.3" cy="1250.9" rx="3.8" ry="2.4"/><ellipse cx="310.1" cy="1250.9" rx="3.9" ry="2.2"/><ellipse cx="322.4" cy="1249.6" rx="3.6" ry="2.1"/><ellipse cx="335.0" cy="1250.5" rx="2.9" ry="1.8"/><ellipse cx="348.5" cy="1249.7" rx="3.2" ry="2.0"/><ellipse cx="358.3" cy="1250.6" rx="4.0" ry="2.0"/><ellipse cx="370.2" cy="1250.0" rx="3.3" ry="2.1"/><ellipse cx="379.2" cy="1249.7" rx="2.8" ry="2.4"/><ellipse cx="390.2" cy="1249.8" rx="3.9" ry="2.5"/><ellipse cx="400.9" cy="1249.7" rx="2.8" ry="1.9"/><ellipse cx="411.0" cy="1249.6" rx="2.9" ry="2.0"/><ellipse cx="422.4" cy="1250.8" rx="3.6" ry="2.1"/><ellipse cx="432.9" cy="1250.3" rx="3.1" ry="2.0"/><ellipse cx="441.3" cy="1249.9" rx="4.0" ry="1.9"/><ellipse cx="452.3" cy="1250.4" rx="3.8" ry="2.0"/><ellipse cx="461.9" cy="1249.9" rx="3.1" ry="2.1"/><ellipse cx="475.6" cy="1250.8" rx="3.8" ry="1.8"/><ellipse cx="483.8" cy="1250.6" rx="3.8" ry="2.1"/><ellipse cx="495.3" cy="1249.5" rx="3.1" ry="2.4"/><ellipse cx="508.3" cy="1250.8" rx="4.0" ry="2.0"/></g>
<!-- factory ground strip -->
 
</g>

<!-- roots -->
<linearGradient id="gRoot" x1="0" y1="0" x2="0" y2="1"><stop offset="0" stop-color="#b37634"/><stop offset="0.5" stop-color="#dfc08a"/><stop offset="1" stop-color="#f3e6c8"/></linearGradient>
<g fill="none" stroke-linecap="round" stroke-linejoin="round">
 <g stroke="#3a2418" stroke-width="1.3" opacity="0.6">
  <path d="M272,1262 C250,1266 230,1272 200,1268"/>
  <path d="M295,1262 C320,1262 345,1258 370,1266"/>
  <path d="M305,1278 C330,1285 345,1292 362,1302"/>
  <path d="M262,1285 C240,1290 225,1298 212,1306"/>
 </g>
 <path d="M283.0,1256.0 L282.0,1270.0 L284.0,1285.0 L283.0,1300.0 L286.0,1315.0 L285.0,1332.0" stroke="#e3c896" stroke-width="3.20"/>
 <path d="M283.0,1266.0 L270.5,1272.3 L257.9,1278.4 L244.4,1282.2" stroke="#e3c896" stroke-width="2.40"/>
 <path d="M270.5,1272.3 L265.7,1276.5 L260.5,1280.1 L255.9,1284.4" stroke="#efe0bf" stroke-width="1.44"/>
 <path d="M265.7,1276.5 L265.1,1279.8 L264.3,1283.0 L263.7,1286.3" stroke="#efe0bf" stroke-width="0.86"/>
 <path d="M260.5,1280.1 L259.8,1282.4 L259.6,1284.9 L259.4,1287.3" stroke="#efe0bf" stroke-width="0.86"/>
 <path d="M255.9,1284.4 L253.7,1285.1 L251.5,1285.9 L249.3,1286.6" stroke="#efe0bf" stroke-width="0.86"/>
 <path d="M257.9,1278.4 L251.4,1278.5 L245.0,1279.6 L238.8,1281.2" stroke="#efe0bf" stroke-width="1.44"/>
 <path d="M251.4,1278.5 L250.6,1280.6 L249.4,1282.5 L248.3,1284.5" stroke="#efe0bf" stroke-width="0.86"/>
 <path d="M245.0,1279.6 L242.4,1279.3 L239.7,1279.1 L237.1,1278.4" stroke="#efe0bf" stroke-width="0.86"/>
 <path d="M238.8,1281.2 L235.8,1280.6 L232.9,1280.4 L229.9,1279.8" stroke="#efe0bf" stroke-width="0.86"/>
 <path d="M244.4,1282.2 L237.9,1285.6 L231.3,1288.8 L224.2,1290.6" stroke="#efe0bf" stroke-width="1.44"/>
 <path d="M237.9,1285.6 L235.2,1288.3 L233.0,1291.4 L230.2,1294.0" stroke="#efe0bf" stroke-width="0.86"/>
 <path d="M231.3,1288.8 L228.7,1288.2 L226.2,1287.4 L223.5,1287.2" stroke="#efe0bf" stroke-width="0.86"/>
 <path d="M224.2,1290.6 L223.3,1293.2 L221.9,1295.7 L220.2,1298.0" stroke="#efe0bf" stroke-width="0.86"/>
 <path d="M285.0,1266.0 L296.3,1274.2 L308.6,1281.0 L319.4,1289.8" stroke="#e3c896" stroke-width="2.40"/>
 <path d="M308.6,1281.0 L310.9,1285.6 L313.6,1290.1 L315.9,1294.7" stroke="#efe0bf" stroke-width="1.44"/>
 <path d="M310.9,1285.6 L310.2,1288.0 L309.9,1290.4 L309.4,1292.8" stroke="#efe0bf" stroke-width="0.86"/>
 <path d="M315.9,1294.7 L315.5,1297.5 L315.6,1300.3 L315.8,1303.0" stroke="#efe0bf" stroke-width="0.86"/>
 <path d="M319.4,1289.8 L324.6,1291.0 L329.8,1291.8 L335.0,1293.1" stroke="#efe0bf" stroke-width="1.44"/>
 <path d="M324.6,1291.0 L327.1,1289.7 L329.6,1288.3 L331.9,1286.7" stroke="#efe0bf" stroke-width="0.86"/>
 <path d="M329.8,1291.8 L332.2,1293.5 L334.5,1295.3 L336.6,1297.2" stroke="#efe0bf" stroke-width="0.86"/>
 <path d="M335.0,1293.1 L336.4,1295.2 L337.5,1297.5 L338.7,1299.8" stroke="#efe0bf" stroke-width="0.86"/>
 <path d="M283.0,1282.0 L272.8,1290.6 L263.0,1299.6 L252.9,1308.4" stroke="#e3c896" stroke-width="2.40"/>
 <path d="M272.8,1290.6 L271.3,1295.3 L269.9,1300.1 L268.8,1305.0" stroke="#efe0bf" stroke-width="1.44"/>
 <path d="M269.9,1300.1 L268.3,1302.1 L266.5,1304.0 L265.1,1306.1" stroke="#efe0bf" stroke-width="0.86"/>
 <path d="M268.8,1305.0 L266.8,1306.3 L264.6,1307.2 L262.5,1308.3" stroke="#efe0bf" stroke-width="0.86"/>
 <path d="M263.0,1299.6 L257.3,1298.6 L251.4,1298.0 L245.7,1297.1" stroke="#efe0bf" stroke-width="1.44"/>
 <path d="M257.3,1298.6 L255.3,1296.4 L253.2,1294.5 L250.8,1292.8" stroke="#efe0bf" stroke-width="0.86"/>
 <path d="M251.4,1298.0 L249.0,1300.0 L246.8,1302.3 L244.7,1304.6" stroke="#efe0bf" stroke-width="0.86"/>
 <path d="M245.7,1297.1 L244.2,1294.6 L242.9,1292.0 L241.4,1289.5" stroke="#efe0bf" stroke-width="0.86"/>
 <path d="M252.9,1308.4 L247.5,1307.9 L242.0,1308.5 L236.7,1309.8" stroke="#efe0bf" stroke-width="1.44"/>
 <path d="M247.5,1307.9 L246.1,1309.7 L244.6,1311.3 L242.8,1312.5" stroke="#efe0bf" stroke-width="0.86"/>
 <path d="M242.0,1308.5 L239.7,1307.2 L237.3,1305.9 L234.8,1304.9" stroke="#efe0bf" stroke-width="0.86"/>
 <path d="M236.7,1309.8 L234.8,1308.2 L232.9,1306.5 L231.4,1304.5" stroke="#efe0bf" stroke-width="0.86"/>
 <path d="M285.0,1282.0 L295.7,1290.0 L306.7,1297.5 L316.3,1306.7" stroke="#e3c896" stroke-width="2.40"/>
 <path d="M295.7,1290.0 L295.8,1296.3 L296.3,1302.6 L296.5,1308.9" stroke="#efe0bf" stroke-width="1.44"/>
 <path d="M296.3,1302.6 L294.9,1305.3 L293.2,1307.9 L291.3,1310.2" stroke="#efe0bf" stroke-width="0.86"/>
 <path d="M283.0,1298.0 L276.4,1308.0 L268.6,1317.2 L261.5,1326.9" stroke="#e3c896" stroke-width="2.40"/>
 <path d="M261.5,1326.9 L260.7,1331.8 L260.2,1336.8 L258.9,1341.7" stroke="#efe0bf" stroke-width="1.44"/>
 <path d="M260.7,1331.8 L261.3,1333.5 L261.7,1335.2 L261.9,1337.0" stroke="#efe0bf" stroke-width="0.86"/>
 <path d="M260.2,1336.8 L258.0,1337.4 L256.0,1338.3 L254.0,1339.5" stroke="#efe0bf" stroke-width="0.86"/>
 <path d="M258.9,1341.7 L257.2,1342.9 L255.3,1343.8 L253.5,1345.0" stroke="#efe0bf" stroke-width="0.86"/>
 <path d="M285.0,1298.0 L290.8,1307.7 L297.8,1316.7 L304.6,1325.7" stroke="#e3c896" stroke-width="2.40"/>
 <path d="M290.8,1307.7 L292.2,1313.7 L293.8,1319.7 L294.7,1325.8" stroke="#efe0bf" stroke-width="1.44"/>
 <path d="M292.2,1313.7 L291.2,1315.8 L290.1,1317.9 L288.7,1319.9" stroke="#efe0bf" stroke-width="0.86"/>
 <path d="M293.8,1319.7 L292.0,1322.2 L290.1,1324.8 L288.5,1327.5" stroke="#efe0bf" stroke-width="0.86"/>
 <path d="M294.7,1325.8 L296.4,1327.5 L298.1,1329.0 L299.7,1330.7" stroke="#efe0bf" stroke-width="0.86"/>
 <path d="M297.8,1316.7 L296.4,1322.0 L296.0,1327.6 L295.3,1333.1" stroke="#efe0bf" stroke-width="1.44"/>
 <path d="M296.0,1327.6 L297.8,1329.3 L299.8,1330.8 L301.9,1332.4" stroke="#efe0bf" stroke-width="0.86"/>
 <path d="M295.3,1333.1 L293.4,1334.5 L291.4,1335.6 L289.6,1336.9" stroke="#efe0bf" stroke-width="0.86"/>
 <path d="M304.6,1325.7 L308.3,1327.8 L311.9,1329.8 L315.4,1332.2" stroke="#efe0bf" stroke-width="1.44"/>
 <path d="M308.3,1327.8 L309.1,1329.8 L309.9,1331.7 L310.8,1333.7" stroke="#efe0bf" stroke-width="0.86"/>
 <path d="M311.9,1329.8 L312.8,1331.6 L313.9,1333.3 L315.4,1334.8" stroke="#efe0bf" stroke-width="0.86"/>
 <path d="M315.4,1332.2 L316.9,1332.2 L318.5,1331.9 L320.0,1331.6" stroke="#efe0bf" stroke-width="0.86"/>
 <path d="M283.0,1310.0 L279.3,1317.8 L276.9,1326.2 L276.0,1334.8" stroke="#e3c896" stroke-width="2.40"/>
 <path d="M279.3,1317.8 L276.5,1320.4 L274.4,1323.5 L271.9,1326.4" stroke="#efe0bf" stroke-width="1.44"/>
 <path d="M274.4,1323.5 L272.8,1323.7 L271.2,1323.9 L269.6,1324.2" stroke="#efe0bf" stroke-width="0.86"/>
 <path d="M285.0,1310.0 L286.7,1318.5 L288.1,1327.0 L290.6,1335.4" stroke="#e3c896" stroke-width="2.40"/>
 <path d="M286.7,1318.5 L284.5,1321.2 L282.1,1323.7 L279.4,1325.9" stroke="#efe0bf" stroke-width="1.44"/>
 <path d="M282.1,1323.7 L280.4,1323.3 L278.8,1322.7 L277.2,1322.1" stroke="#efe0bf" stroke-width="0.86"/>
 <path d="M279.4,1325.9 L279.0,1327.8 L278.9,1329.7 L279.1,1331.6" stroke="#efe0bf" stroke-width="0.86"/>
 <path d="M288.1,1327.0 L290.7,1329.7 L293.1,1332.6 L295.2,1335.6" stroke="#efe0bf" stroke-width="1.44"/>
 <path d="M290.7,1329.7 L291.9,1330.3 L293.2,1330.8 L294.5,1331.3" stroke="#efe0bf" stroke-width="0.86"/>
 <path d="M293.1,1332.6 L292.7,1334.2 L292.0,1335.8 L291.2,1337.3" stroke="#efe0bf" stroke-width="0.86"/>
 <path d="M295.2,1335.6 L297.1,1336.2 L298.9,1337.2 L300.5,1338.4" stroke="#efe0bf" stroke-width="0.86"/>
 <path d="M290.6,1335.4 L289.3,1339.2 L288.4,1343.2 L287.2,1347.1" stroke="#efe0bf" stroke-width="1.44"/>
 <path d="M289.3,1339.2 L287.8,1340.6 L286.2,1341.8 L284.5,1342.9" stroke="#efe0bf" stroke-width="0.86"/>
 <path d="M288.4,1343.2 L287.0,1343.6 L285.5,1343.8 L284.1,1344.2" stroke="#efe0bf" stroke-width="0.86"/>
</g>
<path d="M277,1254 L290,1254 C288,1262 287,1275 287,1290 L283,1300 C281,1285 280,1268 277,1254 Z" fill="url(#gRoot)"/>

<!-- tree -->
<filter id="leafy" x="-10%" y="-10%" width="120%" height="120%">
 <feTurbulence type="fractalNoise" baseFrequency="0.35" numOctaves="2" seed="3" result="n"/>
 <feDisplacementMap in="SourceGraphic" in2="n" scale="6" xChannelSelector="R" yChannelSelector="G"/>
</filter>
<g>
 <path d="M278,1243 C280,1222 279,1203 277,1186 L288,1186 C287,1203 287,1222 291,1243 Z" fill="#5b3a1f"/>
 <path d="M279,1243 C281,1225 280,1210 279,1200 L283,1200 C283,1215 283,1228 285,1243 Z" fill="#3e2514" opacity="0.6"/>
 <g fill="none" stroke="#6b4526" stroke-linecap="round">
  <path d="M281,1192 C270,1182 262,1176 250,1172" stroke-width="3.2"/>
  <path d="M284,1192 C294,1182 305,1176 322,1172" stroke-width="3.2"/>
  <path d="M281,1188 C279,1175 276,1165 272,1158" stroke-width="2.6"/>
  <path d="M285,1188 C288,1176 292,1166 297,1158" stroke-width="2.6"/>
  <path d="M266,1178 C262,1170 258,1165 252,1160" stroke-width="2"/>
 </g>
 <filter id="speck" x="0" y="0" width="100%" height="100%">
  <feTurbulence type="turbulence" baseFrequency="0.28" numOctaves="2" seed="5" result="t"/>
  <feColorMatrix in="t" type="matrix" values="0 0 0 0 0.72  0 0 0 0 0.9  0 0 0 0 0.45  0 0 0 14 -4.6" result="sp"/>
  <feComposite in="sp" in2="SourceAlpha" operator="in"/>
 </filter>
 <g filter="url(#leafy)">
  <g fill="#1f7529">
   <circle cx="213" cy="1163" r="36"/><circle cx="238" cy="1176" r="20"/><circle cx="196" cy="1178" r="18"/>
   <circle cx="290" cy="1122" r="37"/><circle cx="256" cy="1122" r="25"/><circle cx="326" cy="1121" r="27"/>
   <circle cx="351" cy="1163" r="33"/><circle cx="333" cy="1181" r="17"/><circle cx="368" cy="1150" r="16"/>
   <circle cx="250" cy="1150" r="18"/><circle cx="318" cy="1150" r="18"/><circle cx="236" cy="1138" r="16"/><circle cx="336" cy="1136" r="16"/>
  </g>
  <g fill="#3a9633">
   <circle cx="208" cy="1154" r="29"/><circle cx="236" cy="1158" r="18"/><circle cx="240" cy="1135" r="12"/>
   <circle cx="287" cy="1113" r="31"/><circle cx="257" cy="1116" r="21"/><circle cx="320" cy="1113" r="22"/>
   <circle cx="346" cy="1152" r="26"/><circle cx="364" cy="1145" r="14"/><circle cx="332" cy="1135" r="12"/>
  </g>
  <g fill="#6cba3c">
   <circle cx="200" cy="1143" r="16"/><circle cx="222" cy="1138" r="12"/>
   <circle cx="272" cy="1100" r="15"/><circle cx="300" cy="1098" r="14"/><circle cx="322" cy="1106" r="12"/><circle cx="250" cy="1112" r="11"/>
   <circle cx="340" cy="1140" r="14"/><circle cx="362" cy="1136" r="10"/>
  </g>
  <g filter="url(#speck)" opacity="0.75">
   <circle cx="213" cy="1160" r="34"/><circle cx="290" cy="1118" r="36"/><circle cx="256" cy="1122" r="24"/><circle cx="326" cy="1118" r="26"/><circle cx="350" cy="1160" r="31"/>
  </g>
 </g>
</g>

<!-- soil arrows -->
<g fill="none" stroke="#84003e" stroke-width="4.2">
 <path d="M352.7,1304.2 C389.6,1327.3 432.3,1337.6 476,1345.4"/>
 <line x1="672.5" y1="1258" x2="672.5" y2="1274"/>
 <line x1="674" y1="1341" x2="674" y2="1357"/>
 <path d="M798.7,1376.0 C858.6,1368.8 932.9,1365.3 919.3,1283"/>
</g>
<g fill="#84003e">
 <polygon points="493.7,1348 475.3,1355.2 479,1346 478.1,1337.5"/>
 <polygon points="665.8,1270 679.4,1270 672.5,1283"/>
 <polygon points="667,1353 681,1353 674,1366"/>
 <polygon points="918.7,1272 925.8,1285.5 912.2,1285.5"/>
</g>

<!-- sheep -->
<g>
 <ellipse cx="632" cy="1247" rx="24" ry="2.8" fill="#dde5e3"/>
 <path d="M607,1222 C606,1214 614,1211 625,1212 C635,1211 645,1210 650,1208 C654,1204 660,1206 661,1210 C660,1215 657,1220 654,1224 C653,1230 648,1235 644,1235 L643.5,1247 L640,1247 L639,1236 C632,1237 624,1237 618,1236 L617,1247 L613,1247 L612,1234 C608,1231 606,1227 607,1222 Z" fill="#d5bb8a"/>
 <ellipse cx="656.5" cy="1211.5" rx="3.6" ry="4.2" fill="#efe6d4"/>
 <circle cx="658" cy="1210" r="0.9" fill="#333"/>
 <path d="M613,1244 L617,1247 M640,1244 L643.5,1247" stroke="#f2ead8" stroke-width="1.5"/>
</g>
<!-- cow -->
<g>
 <ellipse cx="704" cy="1248" rx="38" ry="2.8" fill="#efe9e2"/>
 <path d="M674,1205 C680,1200 700,1202 715,1202 C725,1202 732,1205 733,1212 L733,1228 C733,1234 731,1240 730,1248 L726,1248 L726,1232 L718,1232 L716,1247 L712,1247 L711,1230 C705,1230 695,1230 690,1228 L689,1247 L684,1247 L682,1226 C677,1222 674,1214 674,1205 Z" fill="#f6f4f0"/>
 <path d="M663,1198 C667,1195 673,1196 678,1198 L680,1204 C679,1210 676,1213 672,1212 C668,1210 664,1204 663,1198 Z" fill="#141414"/>
 <ellipse cx="669.5" cy="1208" rx="3.2" ry="2.4" fill="#f0915a"/>
 <path d="M676,1200 C684,1199 692,1204 694,1210 C690,1214 686,1216 684,1222 C680,1224 677,1220 676,1214 Z" fill="#141414"/>
 <ellipse cx="690" cy="1220" rx="6" ry="4" fill="#141414"/>
 <path d="M700,1204 C708,1202 718,1203 724,1206 C722,1212 718,1216 716,1224 C710,1226 706,1222 706,1216 C702,1212 700,1208 700,1204 Z" fill="#141414"/>
 <path d="M727,1206 C732,1208 734,1215 732,1224 C729,1222 727,1214 727,1206 Z" fill="#141414"/>
 <ellipse cx="719" cy="1230" rx="3.5" ry="2.5" fill="#f4a06a"/>
 <g fill="#141414"><rect x="683.5" y="1245" width="6" height="3" rx="1"/><rect x="711.5" y="1245" width="5" height="3" rx="1"/><rect x="725.5" y="1245.5" width="5" height="3" rx="1"/></g>
 <path d="M733.5,1229 L735.5,1238 L732.5,1237 Z" fill="#141414"/>
 <path d="M667,1196 L666,1193 M678,1197 L680,1194" stroke="#e0a860" stroke-width="1.8"/>
</g>

<!-- factory smoke -->
<g filter="url(#blur1)">
 <g fill="#dcdcdc" stroke="#d2d2d2" stroke-width="2.5">
  <circle cx="830" cy="1200" r="9"/><circle cx="838" cy="1190" r="10"/><circle cx="848" cy="1180" r="11"/><circle cx="862" cy="1172" r="12"/><circle cx="878" cy="1165" r="11"/><circle cx="888" cy="1160" r="9"/><circle cx="858" cy="1192" r="9"/><circle cx="872" cy="1185" r="10"/><circle cx="886" cy="1178" r="9"/><circle cx="896" cy="1185" r="8"/><circle cx="884" cy="1198" r="7"/><circle cx="900" cy="1170" r="7"/><circle cx="856" cy="1203" r="6"/><circle cx="880" cy="1205" r="5"/>
 </g>
 <g fill="#efefef">
  <circle cx="830" cy="1200" r="9"/><circle cx="838" cy="1190" r="10"/><circle cx="848" cy="1180" r="11"/><circle cx="862" cy="1172" r="12"/><circle cx="878" cy="1165" r="11"/><circle cx="888" cy="1160" r="9"/><circle cx="858" cy="1192" r="9"/><circle cx="872" cy="1185" r="10"/><circle cx="886" cy="1178" r="9"/><circle cx="896" cy="1185" r="8"/><circle cx="884" cy="1198" r="7"/><circle cx="900" cy="1170" r="7"/><circle cx="856" cy="1203" r="6"/><circle cx="880" cy="1205" r="5"/>
 </g>
 <g fill="#d0d0d0" stroke="#c4c4c4" stroke-width="2">
  <circle cx="906" cy="1175" r="6"/><circle cx="908" cy="1162" r="9"/><circle cx="918" cy="1150" r="10"/><circle cx="930" cy="1140" r="10"/><circle cx="943" cy="1133" r="9"/><circle cx="952" cy="1130" r="6"/><circle cx="920" cy="1168" r="7"/><circle cx="930" cy="1158" r="8"/><circle cx="942" cy="1150" r="8"/><circle cx="950" cy="1142" r="6"/>
 </g>
 <g fill="#dedede">
  <circle cx="906" cy="1175" r="6"/><circle cx="908" cy="1162" r="9"/><circle cx="918" cy="1150" r="10"/><circle cx="930" cy="1140" r="10"/><circle cx="943" cy="1133" r="9"/><circle cx="952" cy="1130" r="6"/><circle cx="920" cy="1168" r="7"/><circle cx="930" cy="1158" r="8"/><circle cx="942" cy="1150" r="8"/><circle cx="950" cy="1142" r="6"/>
 </g>
</g>
<!-- cooling towers -->
<g>
 <path d="M822.3,1208.3 L836.3,1208.3 C835,1225 838,1236 843.7,1246 L814,1246 C820,1236 823.5,1225 822.3,1208.3 Z" fill="#caa68b"/>
 <path d="M849,1208.3 L863,1208.3 C862,1225 865,1236 870.5,1246 L840.5,1246 C846.5,1236 850,1225 849,1208.3 Z" fill="#b39d86"/>
 <path d="M875,1208.3 L889.5,1208.3 C888,1225 892,1236 897.5,1246 L866.5,1246 C873,1236 876.5,1225 875,1208.3 Z" fill="#cfac90"/>
 <rect x="902.5" y="1184" width="5.5" height="62" fill="#e2e2e8"/>
 <rect x="912" y="1184" width="5.5" height="62" fill="#e2e2e8"/>
 <g fill="#b8202a">
  <rect x="902.5" y="1184" width="5.5" height="3.5"/><rect x="902.5" y="1190.5" width="5.5" height="3.5"/><rect x="902.5" y="1197" width="5.5" height="3.5"/><rect x="902.5" y="1203.5" width="5.5" height="3.5"/>
  <rect x="912" y="1184" width="5.5" height="3.5"/><rect x="912" y="1190.5" width="5.5" height="3.5"/><rect x="912" y="1197" width="5.5" height="3.5"/><rect x="912" y="1203.5" width="5.5" height="3.5"/>
 </g>
 <g fill="#b4b4b4">
  <ellipse cx="812" cy="1246" rx="7" ry="4"/><ellipse cx="828.5" cy="1246.5" rx="7" ry="3.5"/><ellipse cx="845" cy="1246.5" rx="7" ry="3.5"/>
 </g>
 <rect x="856" y="1243.5" width="88" height="4.5" fill="#dcdcdc"/>
 <path d="M896,1243 L905,1238 L912,1243 Z M915,1243 L922,1239 L930,1243 Z" fill="#c8c8c8"/>
 <rect x="806" y="1248" width="138" height="2.2" fill="#b2dc8c"/>
</g>
<!-- car -->
<g>
 <path d="M944.5,1244 C944.5,1240.5 947,1239 952,1238.5 L957.5,1234.5 C962,1233.3 978,1233.3 982.5,1234.5 L988.5,1238.5 C992,1239.5 993.8,1241 993.8,1244 L993.5,1249.3 L945,1249.3 Z" fill="#f7981d"/>
 <path d="M958.5,1238.3 L962.5,1235.2 L968.8,1235.2 L968.8,1238.3 Z M970.3,1238.3 L970.3,1235.2 L979,1235.2 L983.8,1238.3 Z" fill="#1d5a94"/>
 <circle cx="955.3" cy="1247.5" r="3.4" fill="#4a4030"/><circle cx="984.4" cy="1247.5" r="3.4" fill="#4a4030"/>
 <circle cx="955.3" cy="1247.5" r="1.8" fill="#e8c418"/><circle cx="984.4" cy="1247.5" r="1.8" fill="#e8c418"/>
</g>
<!-- person -->
<g>
 <circle cx="996.3" cy="1224" r="2.1" fill="#1f5c8c"/>
 <path d="M993,1228 L999.5,1228 L999.5,1237 L993,1237 Z" fill="#1f5c8c"/>
 <rect x="994" y="1236" width="8" height="8" rx="1.5" fill="#23303e"/>
</g>
</svg>

<div class="l sans" id="name" style="left:142.26px;top:73.80px;font-family:'Liberation Sans', sans-serif;font-size:19px;font-weight:400;color:#000;transform:scaleX(1.0539)"><b>Name:</b></div>
<div class="l sans" id="title" style="left:449.31px;top:147.70px;font-family:'Liberation Sans', sans-serif;font-size:20px;font-weight:400;color:#000;transform:scaleX(1.0379)"><b>The Carbon Cycle (Worksheet)</b></div>
<div class="l sans" id="q1" style="left:142.44px;top:180.30px;font-family:'Liberation Sans', sans-serif;font-size:20px;font-weight:400;color:#000;transform:scaleX(1.1139)"><b>Q.1.</b> Write <b>T</b> or <b>True</b> if the statement is true; write <b>F</b> or <b>False</b> if the statement is false.</div>
<div class="l sans" id="s1" style="left:256.56px;top:212.60px;font-family:'Liberation Sans', sans-serif;font-size:20px;font-weight:400;color:#000;transform:scaleX(1.1088)"><b>1.</b> Carbon is one of the main elements that is essential for life on Earth.</div>
<div class="l sans" id="s2" style="left:257.67px;top:244.00px;font-family:'Liberation Sans', sans-serif;font-size:20px;font-weight:400;color:#000;transform:scaleX(1.1111)"><b>2.</b> Carbon is the most abundant element in the universe.</div>
<div class="l sans" id="s3" style="left:257.66px;top:274.60px;font-family:'Liberation Sans', sans-serif;font-size:20px;font-weight:400;color:#000;transform:scaleX(1.1109)"><b>3.</b> The atmosphere is the only part of the Earth that has carbon.</div>
<div class="l sans" id="s4" style="left:257.66px;top:306.20px;font-family:'Liberation Sans', sans-serif;font-size:20px;font-weight:400;color:#000;transform:scaleX(1.1152)"><b>4.</b> Fossil fuels are formed from the decomposition of organisms (containing</div>
<div class="l sans" id="s4b" style="left:142.55px;top:335.00px;font-family:'Liberation Sans', sans-serif;font-size:20px;font-weight:400;color:#000;transform:scaleX(1.1114)">carbon compounds) that died millions of years ago.</div>
<div class="l sans" id="q2" style="left:142.44px;top:399.30px;font-family:'Liberation Sans', sans-serif;font-size:20px;font-weight:400;color:#000;transform:scaleX(1.1183)"><b>Q.2.</b> What is the name of a molecule with a carbon atom bonded to two oxygen atoms?</div>
<div class="l sans" id="o2a" style="left:153.65px;top:545.40px;font-family:'Liberation Sans', sans-serif;font-size:20px;font-weight:400;color:#000;transform:scaleX(1.1213)">a) Methane</div>
<div class="l sans" id="o2b" style="left:610.79px;top:545.40px;font-family:'Liberation Sans', sans-serif;font-size:20px;font-weight:400;color:#000;transform:scaleX(1.0950)">b) Carbon monoxide</div>
<div class="l sans" id="o2c" style="left:153.69px;top:578.40px;font-family:'Liberation Sans', sans-serif;font-size:20px;font-weight:400;color:#000;transform:scaleX(1.0904)">c) Carbon dioxide</div>
<div class="l sans" id="o2d" style="left:610.79px;top:578.40px;font-family:'Liberation Sans', sans-serif;font-size:20px;font-weight:400;color:#000;transform:scaleX(1.1038)">d) Ethyl alcohol</div>
<div class="l sans" id="q3" style="left:142.44px;top:642.50px;font-family:'Liberation Sans', sans-serif;font-size:20px;font-weight:400;color:#000;transform:scaleX(1.1206)"><b>Q.3.</b> Fill in the blanks with suitable words.</div>
<div class="l sans" id="q3a" style="left:143.45px;top:675.00px;font-family:'Liberation Sans', sans-serif;font-size:20px;font-weight:400;color:#000;transform:scaleX(1.0993)"><b>a)</b> <b>Carbon</b> is a chemical element with the symbol</div>
<div class="l sans" id="q3adot" style="left:747.00px;top:675.00px;font-family:'Liberation Sans', sans-serif;font-size:20px;font-weight:400;color:#000;transform:scaleX(1.0000)">.</div>
<div class="l sans" id="q3b" style="left:142.81px;top:705.00px;font-family:'Liberation Sans', sans-serif;font-size:20px;font-weight:400;color:#000;transform:scaleX(1.0175)"><b>b)</b></div>
<div class="l sans" id="q3b2" style="left:378.88px;top:705.50px;font-family:'Liberation Sans', sans-serif;font-size:20px;font-weight:400;color:#000;transform:scaleX(1.1157)">is the movement and exchange of carbon between the land, the</div>
<div class="l sans" id="q3b3" style="left:142.44px;top:736.00px;font-family:'Liberation Sans', sans-serif;font-size:20px;font-weight:400;color:#000;transform:scaleX(1.1212)">oceans, the atmosphere, and the Earth’s interior.</div>
<div class="l sans" id="q3c" style="left:142.45px;top:767.50px;font-family:'Liberation Sans', sans-serif;font-size:20px;font-weight:400;color:#000;transform:scaleX(1.0920)"><b>c)</b> The burning of fossil fuels</div>
<div class="l sans" id="q3c2" style="left:621.44px;top:767.50px;font-family:'Liberation Sans', sans-serif;font-size:20px;font-weight:400;color:#000;transform:scaleX(1.1081)">carbon dioxide in Earth’s atmosphere.</div>
<div class="l sans" id="q4" style="left:142.46px;top:830.10px;font-family:'Liberation Sans', sans-serif;font-size:20px;font-weight:400;color:#000;transform:scaleX(1.0862)"><b>Q.4.</b> Label the diagram below which shows the <b>carbon cycle.</b></div>
<div class="l sans" id="q5" style="left:142.88px;top:1442.20px;font-family:'Liberation Sans', sans-serif;font-size:20px;font-weight:400;color:#000;transform:scaleX(1.1199)"><b>Q.5.</b> Which of the following is <b>not</b> a carbon-containing compound?</div>
<div class="l sans" id="o5a" style="left:153.91px;top:1475.50px;font-family:'Liberation Sans', sans-serif;font-size:20px;font-weight:400;color:#000;transform:scaleX(1.0923)">a) Water (H<span class="sb">2</span>O)</div>
<div class="l sans" id="o5b" style="left:610.90px;top:1475.70px;font-family:'Liberation Sans', sans-serif;font-size:20px;font-weight:400;color:#000;transform:scaleX(1.0974)">b) Methane (CH<span class="sb">4</span>)</div>
<div class="l sans" id="o5c" style="left:153.95px;top:1508.50px;font-family:'Liberation Sans', sans-serif;font-size:20px;font-weight:400;color:#000;transform:scaleX(1.0541)">c) Glucose (C<span class="sb">6</span>H<span class="sb">12</span>O<span class="sb">6</span>)</div>
<div class="l sans" id="o5d" style="left:610.94px;top:1509.00px;font-family:'Liberation Sans', sans-serif;font-size:20px;font-weight:400;color:#000;transform:scaleX(1.0621)">d) Calcium Carbonate (CaCO<span class="sb">3</span>)</div>
<div class="l sans" id="a5" style="left:659.82px;top:666.50px;font-family:'Liberation Sans', sans-serif;font-size:17px;font-weight:400;color:#333;transform:scaleX(1.1806)">C</div>
<div class="l mono" id="a6" style="left:166.44px;top:706.80px;font-family:'Liberation Mono', monospace;font-size:18px;font-weight:400;color:#000;transform:scaleX(1.1111)">The Carbon Cycle</div>
<div class="l mono" id="a7" style="left:448.48px;top:769.50px;font-family:'Liberation Mono', monospace;font-size:21px;font-weight:400;color:#000;transform:scaleX(1.1749)">release</div>
<div class="l mono" id="lb1" style="left:169.97px;top:1048.00px;font-family:'Liberation Mono', monospace;font-size:20px;font-weight:400;color:#111;transform:scaleX(1.2158)">Photosynthesis</div>
<div class="l mono" id="lb2" style="left:421.18px;top:1014.60px;font-family:'Liberation Mono', monospace;font-size:20px;font-weight:400;color:#111;transform:scaleX(1.2156)">Respiration</div>
<div class="l mono" id="lb3" style="left:581.73px;top:1111.80px;font-family:'Liberation Mono', monospace;font-size:20px;font-weight:400;color:#111;transform:scaleX(1.2258)">Live animals</div>
<div class="l mono" id="lb4" style="left:846.77px;top:1013.20px;font-family:'Liberation Mono', monospace;font-size:20px;font-weight:400;color:#111;transform:scaleX(1.2189)">Combustion</div>
<div class="l" id="co2a" style="left:580.59px;top:872.50px;font-family:'Liberation Sans', sans-serif;font-size:18px;font-weight:700;color:#231f20;transform:scaleX(0.9924)">Carbon dioxide</div>
<div class="l" id="co2b" style="left:623.48px;top:898.00px;font-family:'Liberation Sans', sans-serif;font-size:18px;font-weight:700;color:#231f20;transform:scaleX(0.9789)">(CO<span class="sb">2</span>)</div>
<div class="l" id="dec" style="left:298.34px;top:1355.70px;font-family:'Liberation Sans', sans-serif;font-size:18px;font-weight:700;color:#f4eeea;transform:scaleX(0.9459)">Decay organisms</div>
<div class="l" id="dead1" style="left:604.85px;top:1289.20px;font-family:'Liberation Sans', sans-serif;font-size:18px;font-weight:700;color:#f4eeea;transform:scaleX(0.9566)">Dead organisms</div>
<div class="l" id="dead2" style="left:605.80px;top:1312.90px;font-family:'Liberation Sans', sans-serif;font-size:18px;font-weight:700;color:#f4eeea;transform:scaleX(0.9749)">and waste product</div>
<div class="l" id="foss" style="left:629.27px;top:1372.70px;font-family:'Liberation Sans', sans-serif;font-size:18px;font-weight:700;color:#f4eeea;transform:scaleX(0.9185)">Fossil fuels</div>
<svg width="1200" height="1696" viewBox="0 0 1200 1696" style="position:absolute;left:0;top:0">
 <path d="M180.5,594.6 L180.6,598.0 L179.6,601.2 L178.5,604.4 L176.8,607.3 L174.2,609.4 L171.6,611.5 L169.2,614.0 L165.8,614.7 L162.5,615.5 L159.2,616.5 L155.8,615.7 L152.4,615.3 L149.4,613.6 L146.4,612.0 L144.2,609.5 L141.6,607.3 L139.6,604.5 L138.6,601.2 L137.6,598.0 L137.4,594.6 L138.3,591.3 L138.4,587.9 L139.9,584.8 L141.9,582.1 L144.3,579.8 L146.3,577.0 L149.4,575.6 L152.5,574.0 L155.8,573.1 L159.2,573.0 L162.6,573.0 L165.8,574.3 L169.1,575.3 L171.9,577.3 L174.8,579.2 L177.0,581.8 L178.1,585.1 L179.4,588.1 L180.3,591.3 Z" fill="none" stroke="#000" stroke-width="5.2" stroke-linejoin="round"/>
 <path d="M181.1,1480.5 L180.3,1483.6 L179.7,1486.8 L178.1,1489.6 L176.5,1492.4 L174.3,1494.7 L171.7,1496.7 L169.0,1498.6 L165.8,1499.8 L162.6,1500.9 L159.2,1500.9 L155.8,1500.9 L152.5,1500.1 L149.3,1498.9 L146.5,1497.0 L144.3,1494.5 L141.6,1492.6 L139.7,1489.9 L138.5,1486.9 L138.0,1483.7 L137.6,1480.5 L138.3,1477.4 L138.5,1474.2 L140.1,1471.3 L142.1,1468.8 L144.4,1466.5 L146.4,1463.9 L149.3,1462.1 L152.7,1461.7 L155.8,1460.3 L159.2,1460.4 L162.5,1460.9 L165.7,1461.5 L169.0,1462.3 L172.0,1463.9 L174.0,1466.5 L176.6,1468.6 L177.9,1471.5 L179.8,1474.2 L180.2,1477.4 Z" fill="none" stroke="#000" stroke-width="5.2" stroke-linejoin="round"/>
</svg>

</body></html>
